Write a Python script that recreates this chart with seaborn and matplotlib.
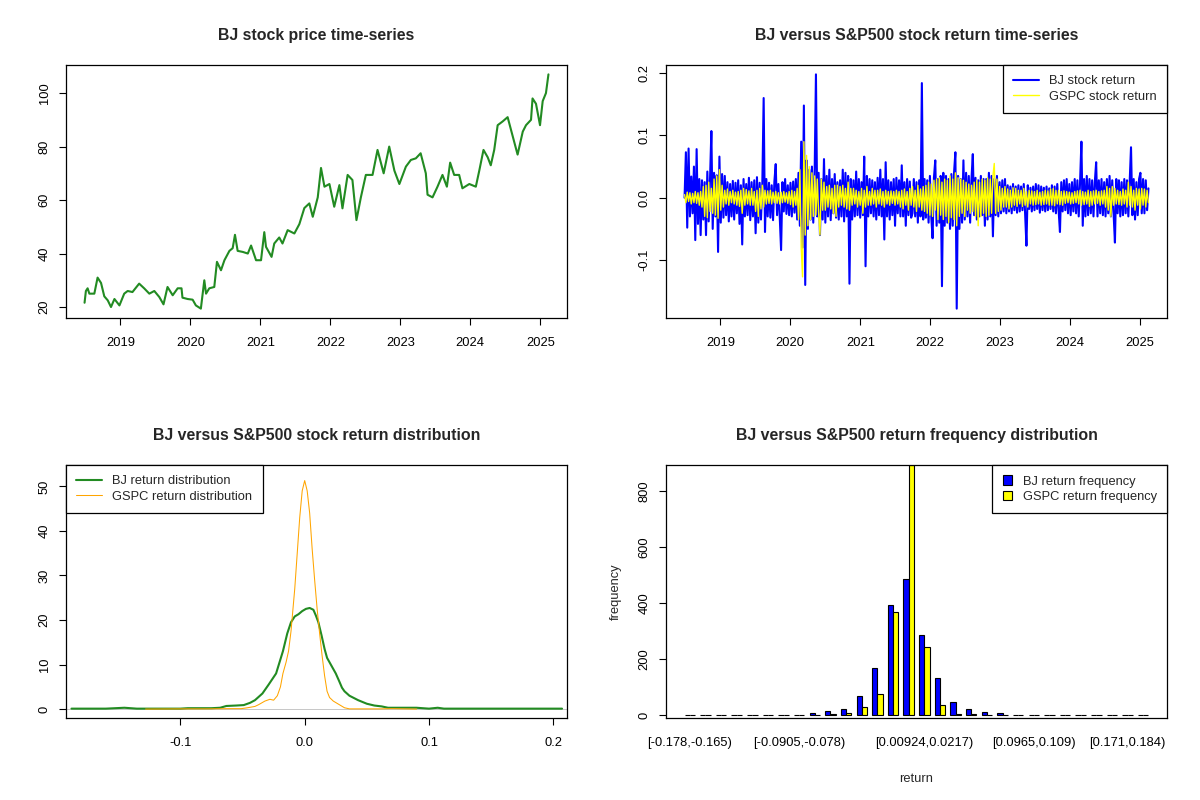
import pandas as pd
import seaborn as sns
import matplotlib.pyplot as plt
import matplotlib.dates as mdates
from matplotlib.ticker import MultipleLocator, FormatStrFormatter

# ---- data ----

# BJ closing price (sampled points along the daily curve)
price_dates = [
    '2018-06-28', '2018-07-05', '2018-07-14', '2018-07-23', '2018-08-18', '2018-09-04',
    '2018-09-22', '2018-10-09', '2018-10-27', '2018-11-13', '2018-12-01', '2018-12-27',
    '2019-01-21', '2019-02-08', '2019-03-05', '2019-04-09', '2019-05-05', '2019-06-01',
    '2019-06-27', '2019-07-23', '2019-08-14', '2019-09-04', '2019-10-01', '2019-10-27',
    '2019-11-16', '2019-11-21', '2019-12-18',
    '2020-01-13', '2020-01-30', '2020-02-25', '2020-03-14', '2020-03-23', '2020-04-09',
    '2020-05-05', '2020-05-19', '2020-06-09', '2020-06-27', '2020-07-23', '2020-08-09',
    '2020-08-21', '2020-09-04', '2020-10-01', '2020-10-27', '2020-11-13', '2020-12-09',
    '2021-01-04', '2021-01-21', '2021-01-30', '2021-02-28', '2021-03-14', '2021-04-09',
    '2021-04-26', '2021-05-23', '2021-06-27', '2021-07-23', '2021-08-18', '2021-09-13',
    '2021-10-01', '2021-10-27', '2021-11-13', '2021-12-01', '2021-12-27',
    '2022-01-21', '2022-02-17', '2022-03-05', '2022-04-01', '2022-04-26', '2022-05-17',
    '2022-06-09', '2022-07-05', '2022-08-09', '2022-09-04', '2022-10-06', '2022-11-04',
    '2022-12-01', '2022-12-27',
    '2023-01-30', '2023-02-25', '2023-03-23', '2023-04-17', '2023-05-14', '2023-05-23',
    '2023-06-18', '2023-07-14', '2023-08-09', '2023-09-01', '2023-09-18', '2023-10-09',
    '2023-11-04', '2023-11-21', '2023-12-27',
    '2024-01-30', '2024-02-17', '2024-03-10', '2024-04-01', '2024-04-17', '2024-05-05',
    '2024-05-23', '2024-06-18', '2024-07-14', '2024-08-09', '2024-09-04', '2024-10-01',
    '2024-10-18', '2024-11-13', '2024-11-21', '2024-12-09', '2024-12-30',
    '2025-01-13', '2025-01-30', '2025-02-12',
]
price_values = [
    21.6, 26, 27, 25, 25, 31, 29, 24, 22.5, 20, 23, 20.6,
    25, 26, 25.6, 28.75, 27, 25, 26, 23.75, 21, 27.5, 24.4, 27, 27, 23.5, 23,
    22.75, 20.6, 19.4, 30, 25, 27, 27.5, 36.9, 33.75, 37.5, 41, 42, 47, 41, 40.6, 40, 43, 37.5,
    37.5, 48, 42.5, 38.75, 43.75, 46, 43.75, 48.75, 47.5, 51, 57, 58.75, 53.75, 61, 72, 65, 66,
    57.5, 65.6, 56.9, 69.4, 67.5, 52.5, 61, 69.4, 69.4, 78.75, 70, 80, 71, 66,
    72.5, 75, 75.6, 77.5, 70, 62, 61, 65, 69.4, 65, 74, 69.4, 69.4, 64.4, 66,
    65, 71, 78.75, 76, 73, 78.75, 88, 89.4, 91, 84, 77, 85.6, 88, 90, 98, 96, 88,
    97, 100, 107,
]

# weekly returns, first week 2018-06-28
return_start = '2018-06-28'
bj_returns = [
    0.000, 0.073, -0.048, 0.079, -0.030, 0.034, -0.025, 0.050, -0.068, 0.078,
    -0.042, 0.030, -0.060, 0.028, -0.035, 0.025, -0.060, 0.042, -0.038, 0.030,
    0.107, -0.050, 0.040, -0.030, 0.036, -0.087, 0.066, -0.040, 0.038, -0.032,
    0.035, -0.028, 0.025, -0.038, 0.022, -0.030, 0.027, -0.035, 0.024, -0.025,
    0.028, -0.042, 0.020, -0.075, 0.030, -0.030, 0.022, -0.028, 0.032, -0.036,
    0.025, -0.030, 0.028, -0.057, 0.033, -0.040, 0.024, -0.035, 0.022, 0.160,
    -0.055, 0.030, -0.030, 0.024, -0.032, 0.020, -0.036, 0.026, 0.054, -0.028,
    0.022, -0.030, -0.084, 0.025, -0.022, 0.030, -0.026, 0.020, -0.028, 0.024,
    -0.030, 0.026, -0.024, 0.030, -0.035, 0.040, -0.045, 0.090, -0.080, 0.148,
    -0.140, 0.060, -0.050, 0.045, -0.035, 0.050, -0.040, 0.035, 0.198, -0.030,
    0.040, -0.060, 0.030, -0.035, 0.062, -0.040, 0.035, -0.030, 0.045, -0.036,
    0.030, -0.025, 0.038, -0.032, 0.025, -0.035, 0.028, -0.030, 0.045, -0.038,
    0.040, -0.030, 0.035, -0.138, 0.030, -0.035, 0.028, -0.030, 0.042, -0.028,
    0.030, -0.032, 0.025, -0.028, 0.066, -0.110, 0.035, -0.030, 0.030, -0.025,
    0.028, -0.030, 0.025, -0.035, 0.032, -0.028, 0.045, -0.030, 0.030, -0.067,
    0.057, -0.030, 0.028, -0.035, 0.025, -0.028, 0.030, -0.045, 0.032, -0.025,
    0.028, -0.030, 0.052, -0.030, 0.025, -0.045, 0.030, -0.028, 0.026, -0.032,
    -0.025, 0.030, -0.030, 0.025, -0.040, 0.028, -0.030, 0.184, -0.035, 0.030,
    -0.032, 0.028, -0.040, 0.035, -0.030, -0.065, 0.032, 0.060, -0.045, 0.030,
    -0.040, 0.035, -0.142, 0.040, -0.045, 0.035, -0.040, 0.030, -0.050, 0.038,
    -0.045, 0.040, 0.073, -0.178, 0.035, -0.050, 0.030, -0.040, 0.060, -0.035,
    0.040, -0.030, 0.035, -0.040, 0.030, 0.070, -0.028, 0.032, -0.035, 0.028,
    -0.030, 0.035, -0.028, 0.030, -0.045, 0.030, -0.035, 0.040, -0.030, 0.035,
    -0.062, 0.030, -0.028, 0.035, -0.030, 0.025, -0.025, 0.028, -0.022, 0.030,
    -0.025, 0.020, -0.022, 0.018, -0.025, 0.022, -0.020, 0.018, -0.024, 0.020,
    -0.022, 0.018, -0.020, 0.022, -0.025, -0.077, 0.020, -0.018, 0.016, -0.022,
    0.018, -0.020, 0.022, -0.018, 0.020, -0.024, 0.018, -0.020, 0.016, -0.022,
    0.018, -0.020, 0.015, -0.018, 0.020, -0.022, 0.018, -0.025, 0.022, -0.020,
    -0.055, 0.025, -0.022, 0.028, -0.020, 0.030, -0.025, 0.022, -0.028, 0.025,
    -0.022, 0.030, -0.025, 0.028, -0.030, 0.025, 0.090, -0.045, 0.030, -0.030,
    0.035, -0.028, 0.030, -0.025, 0.028, -0.030, 0.025, 0.057, -0.030, 0.028,
    -0.025, 0.030, -0.028, 0.025, -0.030, 0.030, -0.025, 0.035, -0.030, 0.028,
    -0.025, -0.072, 0.030, -0.025, 0.028, -0.030, 0.025, -0.028, 0.030, -0.025,
    0.028, -0.030, 0.025, 0.081, -0.028, 0.030, -0.035, 0.025, -0.028, 0.030,
    0.040, -0.025, 0.030, -0.025, 0.028, -0.020, 0.015,
]
gspc_returns = [
    0.005, -0.008, 0.009, -0.006, 0.008, -0.010, 0.007, -0.008, 0.010, -0.009,
    0.008, -0.012, 0.010, -0.015, 0.018, -0.030, 0.020, -0.032, 0.025, -0.022,
    0.015, -0.025, 0.030, -0.028, 0.035, -0.033, 0.045, -0.020, 0.020, -0.015,
    0.012, -0.010, 0.014, -0.012, 0.010, -0.008, 0.012, -0.010, 0.009, -0.012,
    0.010, -0.014, 0.012, -0.025, 0.015, -0.012, 0.013, -0.010, 0.011, -0.012,
    0.015, -0.012, 0.010, -0.022, 0.012, -0.030, 0.015, -0.018, 0.020, -0.015,
    0.012, -0.010, 0.011, -0.009, 0.012, -0.010, 0.009, -0.008, 0.010, -0.009,
    0.008, -0.010, 0.009, -0.008, 0.010, -0.007, 0.008, -0.009, 0.010, -0.011,
    0.012, -0.015, 0.010, -0.012, 0.015, -0.035, 0.045, -0.080, -0.127, 0.090,
    -0.060, 0.068, -0.045, 0.050, -0.035, 0.040, -0.030, 0.035, -0.028, 0.030,
    -0.025, -0.060, 0.030, -0.020, 0.025, -0.020, 0.018, -0.015, 0.020, -0.018,
    0.015, -0.025, 0.020, -0.030, 0.020, -0.015, 0.018, -0.012, 0.020, -0.015,
    0.015, -0.018, 0.025, -0.020, 0.015, -0.012, 0.015, -0.010, 0.012, -0.015,
    0.010, -0.012, 0.015, -0.025, 0.012, -0.015, 0.018, -0.012, 0.010, -0.012,
    0.015, -0.010, 0.012, -0.015, 0.012, -0.010, 0.014, -0.012, 0.010, -0.015,
    0.012, -0.010, 0.010, -0.012, 0.011, -0.009, 0.010, -0.012, 0.012, -0.010,
    0.010, -0.015, 0.012, -0.018, 0.014, -0.012, 0.010, -0.020, 0.015, -0.012,
    0.018, -0.015, 0.012, -0.022, 0.020, -0.015, 0.014, -0.020, 0.018, -0.022,
    0.020, -0.025, 0.025, -0.028, 0.022, -0.030, 0.028, -0.020, 0.030, -0.035,
    0.032, -0.028, 0.025, -0.035, 0.030, -0.030, 0.028, -0.040, 0.035, -0.032,
    0.030, -0.035, 0.040, -0.045, 0.032, -0.030, 0.030, -0.025, 0.028, -0.030,
    0.025, -0.020, 0.022, -0.025, 0.020, -0.022, 0.025, -0.030, 0.028, -0.045,
    0.025, -0.030, 0.030, -0.025, 0.028, -0.030, 0.032, -0.028, 0.030, -0.025,
    0.035, 0.055, -0.025, 0.030, -0.022, 0.018, -0.020, 0.015, -0.015, 0.018,
    -0.015, 0.014, -0.018, 0.012, -0.015, 0.016, -0.012, 0.015, -0.014, 0.012,
    -0.010, 0.012, -0.014, 0.015, -0.012, 0.010, -0.015, 0.012, -0.010, 0.011,
    -0.012, 0.010, -0.011, 0.012, -0.010, 0.009, -0.012, 0.010, -0.011, 0.012,
    -0.010, 0.011, -0.012, 0.014, -0.012, 0.015, -0.013, 0.012, -0.010, 0.012,
    -0.011, 0.010, -0.012, 0.011, -0.009, 0.010, -0.008, 0.009, -0.010, 0.008,
    -0.009, 0.010, -0.008, 0.011, -0.010, 0.012, -0.012, 0.010, -0.011, 0.009,
    -0.010, 0.012, -0.014, 0.010, -0.012, 0.011, -0.010, 0.012, -0.009, 0.010,
    -0.012, 0.011, -0.010, 0.012, -0.015, 0.018, -0.020, 0.015, -0.030, 0.018,
    -0.012, 0.015, -0.010, 0.012, -0.011, 0.010, -0.012, 0.014, -0.010, 0.012,
    -0.015, 0.025, -0.012, 0.018, -0.015, 0.012, -0.020, 0.015, -0.012, 0.014,
    -0.018, 0.015, -0.012, 0.014, -0.015, 0.012, -0.008,
]

# kernel density curves
bj_dens_x = [-0.1876, -0.160, -0.145, -0.135, -0.100, -0.094, -0.075, -0.068, -0.063,
             -0.055, -0.049, -0.044, -0.040, -0.034, -0.029, -0.023, -0.0175, -0.014,
             -0.011, -0.008, -0.005, -0.002, 0.001, 0.004, 0.007, 0.009, 0.011, 0.0136,
             0.016, 0.018, 0.022, 0.025, 0.0277, 0.030, 0.032, 0.036, 0.043, 0.050,
             0.056, 0.062, 0.067, 0.090, 0.100, 0.107, 0.112, 0.207]
bj_dens_y = [0.1, 0.1, 0.3, 0.1, 0.1, 0.2, 0.2, 0.3, 0.7,
             0.8, 0.9, 1.4, 2.0, 3.5, 5.5, 8.0, 13.0, 17.0,
             19.5, 20.8, 21.3, 22.0, 22.5, 22.7, 22.3, 21.0, 19.5, 16.5,
             13.5, 11.5, 9.5, 8.0, 6.3, 4.8, 4.0, 3.0, 2.0, 1.2,
             0.8, 0.6, 0.3, 0.3, 0.1, 0.3, 0.1, 0.1]
gspc_dens_x = [-0.128, -0.100, -0.080, -0.060, -0.051, -0.046, -0.040, -0.037, -0.032,
               -0.028, -0.025, -0.022, -0.0195, -0.0175, -0.015, -0.013, -0.011, -0.008,
               -0.006, -0.004, -0.002, 0.000, 0.002, 0.004, 0.006, 0.008, 0.010, 0.012,
               0.014, 0.016, 0.018, 0.020, 0.023, 0.026, 0.029, 0.032, 0.036, 0.060,
               0.070, 0.080, 0.090]
gspc_dens_y = [0.0, 0.05, 0.05, 0.1, 0.1, 0.3, 0.6, 1.0, 1.8,
               2.2, 2.0, 3.0, 5.0, 8.0, 10.5, 13.0, 17.5, 27.0,
               35.0, 43.0, 49.0, 51.3, 49.0, 44.0, 36.0, 29.0, 22.5, 17.0,
               12.0, 7.5, 4.0, 2.6, 1.8, 1.3, 0.8, 0.3, 0.05, 0.05,
               0.1, 0.05, 0.0]

# frequency table of binned returns
bin_labels = [
    '[-0.178,-0.165)', '[-0.165,-0.153)', '[-0.153,-0.141)', '[-0.141,-0.128)',
    '[-0.128,-0.116)', '[-0.116,-0.103)', '[-0.103,-0.0905)', '[-0.0905,-0.078)',
    '[-0.078,-0.0656)', '[-0.0656,-0.0531)', '[-0.0531,-0.0407)', '[-0.0407,-0.0282)',
    '[-0.0282,-0.0158)', '[-0.0158,-0.00323)', '[-0.00323,0.00924)', '[0.00924,0.0217)',
    '[0.0217,0.0341)', '[0.0341,0.0466)', '[0.0466,0.0591)', '[0.0591,0.0715)',
    '[0.0715,0.084)', '[0.084,0.0965)', '[0.0965,0.109)', '[0.109,0.121)',
    '[0.121,0.134)', '[0.134,0.146)', '[0.146,0.159)', '[0.159,0.171)',
    '[0.171,0.184)', '[0.184,0.196]',
]
shown_bins = [0, 7, 15, 22, 28]
bj_freq = [3, 1, 2, 2, 2, 2, 3, 3, 8, 15, 22, 68, 168, 393, 487,
           288, 133, 47, 22, 12, 8, 3, 3, 3, 1, 1, 2, 1, 3, 1]
gspc_freq = [0, 0, 0, 0, 1, 1, 2, 2, 1, 4, 8, 30, 78, 370, 892,
             245, 37, 4, 4, 3, 1, 3, 2, 1, 0, 0, 0, 0, 0, 0]

# ---- style ----
sns.set_style("ticks")
plt.rcParams['font.family'] = ['Liberation Sans', 'DejaVu Sans']
plt.rcParams['axes.unicode_minus'] = False
plt.rcParams['axes.linewidth'] = 0.9
plt.rcParams['axes.edgecolor'] = 'black'

TICK_FS = 9.3
TITLE_FS = 11.4


def r_axes(ax):
    ax.tick_params(direction='out', length=5, width=0.8, colors='black',
                   labelsize=TICK_FS)
    ax.tick_params(axis='x', pad=9)
    ax.tick_params(axis='y', pad=6, labelrotation=90)
    for lab in ax.get_yticklabels():
        lab.set_va('center')
    for s in ax.spines.values():
        s.set_visible(True)
        s.set_color('black')


def r_legend(ax, loc, patches=False):
    kw = dict(handlelength=0.75, handleheight=0.75) if patches else dict(handlelength=2.0)
    leg = ax.legend(loc=loc, frameon=True, fancybox=False, framealpha=1,
                    edgecolor='black', borderaxespad=0, fontsize=TICK_FS,
                    borderpad=0.8, labelspacing=0.25, handletextpad=0.8, **kw)
    leg.get_frame().set_linewidth(0.9)
    return leg


fig = plt.figure(figsize=(12, 8), dpi=100)
W, H = 1200, 800
ax1 = fig.add_axes([66 / W, 1 - 318 / H, 501 / W, 253 / H])
ax2 = fig.add_axes([666 / W, 1 - 318 / H, 501 / W, 253 / H])
ax3 = fig.add_axes([66 / W, 1 - 718 / H, 501 / W, 253 / H])
ax4 = fig.add_axes([666 / W, 1 - 718 / H, 501 / W, 253 / H])

# ---- panel 1: price ----
price = pd.DataFrame({'date': pd.to_datetime(price_dates), 'price': price_values})
sns.lineplot(data=price, x='date', y='price', color='#228B22', lw=1.5,
             estimator=None, ax=ax1)
ax1.margins(x=0.04, y=0.04)
ax1.xaxis.set_major_locator(mdates.YearLocator())
ax1.xaxis.set_major_formatter(mdates.DateFormatter('%Y'))
ax1.yaxis.set_major_locator(MultipleLocator(20))
ax1.set_xlabel('')
ax1.set_ylabel('')
ax1.set_title('BJ stock price time-series', fontsize=TITLE_FS, fontweight='bold', pad=18)
r_axes(ax1)

# ---- panel 2: returns ----
ret_dates = pd.date_range(return_start, periods=len(bj_returns), freq='7D')
rets = pd.DataFrame({'date': ret_dates, 'bj': bj_returns, 'gspc': gspc_returns})
sns.lineplot(data=rets, x='date', y='bj', color='blue', lw=1.5, estimator=None,
             label='BJ stock return', ax=ax2)
sns.lineplot(data=rets, x='date', y='gspc', color='yellow', lw=1.0, estimator=None,
             label='GSPC stock return', ax=ax2)
ax2.margins(x=0.04, y=0.04)
ax2.xaxis.set_major_locator(mdates.YearLocator())
ax2.xaxis.set_major_formatter(mdates.DateFormatter('%Y'))
ax2.yaxis.set_major_locator(MultipleLocator(0.1))
ax2.yaxis.set_major_formatter(FormatStrFormatter('%.1f'))
ax2.set_xlabel('')
ax2.set_ylabel('')
ax2.set_title('BJ versus S&P500 stock return time-series', fontsize=TITLE_FS,
              fontweight='bold', pad=18)
r_axes(ax2)
r_legend(ax2, 'upper right')

# ---- panel 3: densities ----
sns.lineplot(x=bj_dens_x, y=bj_dens_y, color='#228B22', lw=1.5, estimator=None,
             sort=False, label='BJ return distribution', ax=ax3)
ax3.axhline(0, color='#BEBEBE', lw=0.6, zorder=1.5)
sns.lineplot(x=gspc_dens_x, y=gspc_dens_y, color='orange', lw=0.75, estimator=None,
             sort=False, label='GSPC return distribution', ax=ax3)
ax3.set_xlim(-0.192, 0.211)
ax3.set_ylim(-2.0, 54.8)
ax3.xaxis.set_major_locator(MultipleLocator(0.1))
ax3.xaxis.set_major_formatter(FormatStrFormatter('%.1f'))
ax3.yaxis.set_major_locator(MultipleLocator(10))
ax3.set_title('BJ versus S&P500 stock return distribution', fontsize=TITLE_FS,
              fontweight='bold', pad=18)
r_axes(ax3)
r_legend(ax3, 'upper left')

# ---- panel 4: frequency bars ----
n = len(bin_labels)
freq = pd.DataFrame({
    'bin': bin_labels * 2,
    'count': bj_freq + gspc_freq,
    'series': ['BJ return frequency'] * n + ['GSPC return frequency'] * n,
})
sns.barplot(data=freq, x='bin', y='count', hue='series', order=bin_labels,
            palette={'BJ return frequency': 'blue', 'GSPC return frequency': 'yellow'},
            width=2 / 3, edgecolor='black', linewidth=0.8, saturation=1, ax=ax4)
top = max(bj_freq + gspc_freq)
ax4.set_ylim(-0.01 * top, top)
span = (n - 1) + 2 / 3
ax4.set_xlim(-1 / 3 - 0.04 * span, n - 1 + 1 / 3 + 0.04 * span)
ax4.set_xticks(shown_bins)
ax4.set_xticklabels([bin_labels[i] for i in shown_bins])
ax4.yaxis.set_major_locator(MultipleLocator(200))
ax4.set_xlabel('return', fontsize=TICK_FS, labelpad=17)
ax4.set_ylabel('frequency', fontsize=TICK_FS, labelpad=12)
ax4.set_title('BJ versus S&P500 return frequency distribution', fontsize=TITLE_FS,
              fontweight='bold', pad=18)
r_axes(ax4)
ax4.tick_params(axis='x', length=0, pad=14)
r_legend(ax4, 'upper right', patches=True)

fig.savefig('out.png', dpi=100)
